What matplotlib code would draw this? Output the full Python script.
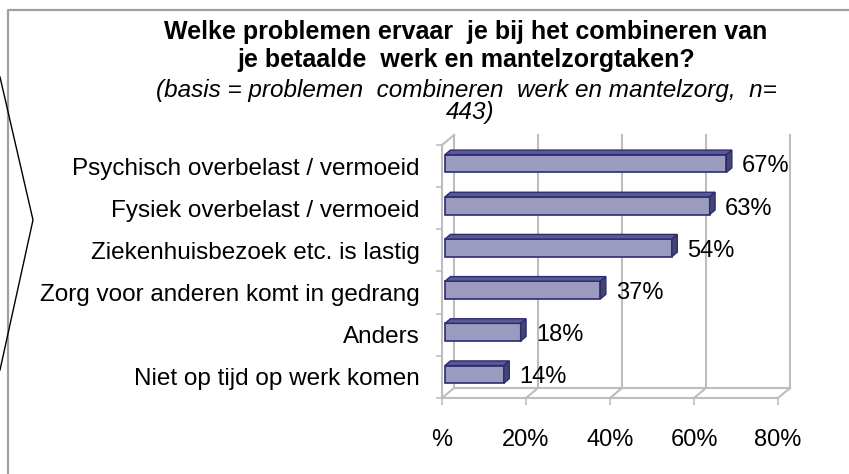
import matplotlib
matplotlib.use("Agg")
import matplotlib.pyplot as plt
from matplotlib.patches import Polygon
from matplotlib.lines import Line2D

plt.rcParams['font.family'] = ['Liberation Sans', 'DejaVu Sans']

categories = ["Psychisch overbelast / vermoeid",
              "Fysiek overbelast / vermoeid",
              "Ziekenhuisbezoek etc. is lastig",
              "Zorg voor anderen komt in gedrang",
              "Anders",
              "Niet op tijd op werk komen"]
values = [67, 63, 54, 37, 18, 14]
tick_vals = [0, 20, 40, 60, 80]
tick_labels = ["%", "20%", "40%", "60%", "80%"]

W, H = 849, 474
fig = plt.figure(figsize=(W / 100, H / 100), dpi=100)

# frame + chevron decoration
fig.add_artist(Line2D([8 / W, 8 / W, 1], [0, 1 - 10 / H, 1 - 10 / H],
                      transform=fig.transFigure, color='#a0a0a0', lw=1.6))
fig.add_artist(Line2D([0, 33 / W, 0], [1 - 77 / H, 1 - 220 / H, 1 - 370 / H],
                      transform=fig.transFigure, color='black', lw=1))

# titles
cx = 466 / W
fig.text(cx, 1 - 32 / H, "Welke problemen ervaar  je bij het combineren van",
         ha='center', va='center', fontsize=18, fontweight='bold')
fig.text(cx, 1 - 60 / H, "je betaalde  werk en mantelzorgtaken?",
         ha='center', va='center', fontsize=18, fontweight='bold')
fig.text(cx, 1 - 90 / H, "(basis = problemen  combineren  werk en mantelzorg,  n=",
         ha='center', va='center', fontsize=17.5, style='italic')
fig.text(470 / W, 1 - 113 / H, "443)",
         ha='center', va='center', fontsize=17.5, style='italic')

ax = fig.add_axes([442 / W, 1 - 398 / H, 336 / W, 253 / H])
ax.set_xlim(0, 80)
ax.set_ylim(5.5, -0.5)
ax.patch.set_alpha(0)

DX, DY = 2.86, 0.237   # wall depth in data units
grey = '#bdbdbd'
top, bot = -0.5, 5.5

# back walls and floor
for x in tick_vals:
    ax.plot([x + DX, x + DX], [bot - DY, top - DY], color=grey, lw=1.5, clip_on=False, zorder=1)
    ax.plot([x, x + DX], [bot, bot - DY], color=grey, lw=1.5, clip_on=False, zorder=1)
ax.plot([DX, 80 + DX], [bot - DY, bot - DY], color=grey, lw=1.5, clip_on=False, zorder=1)
ax.plot([0, DX], [top, top - DY], color=grey, lw=1.5, clip_on=False, zorder=1)

for s in ['top', 'right']:
    ax.spines[s].set_visible(False)
for s in ['left', 'bottom']:
    ax.spines[s].set_color(grey)
    ax.spines[s].set_linewidth(1.5)

# bars (3D-ish)
front = '#9b9bc0'
edge = '#2b2b72'
topc = '#5a5a92'
sidec = '#45456e'
h = 0.42
x0 = 0.25 * DX
dxb, dyb = 1.3, 0.11
ys = [i - 0.25 * DY for i in range(len(values))]
ax.barh(ys, values, left=x0, height=h, color=front, edgecolor=edge, lw=1.2, zorder=3)
for y, v in zip(ys, values):
    yt, yb = y - h / 2, y + h / 2
    ax.add_patch(Polygon([(x0, yt), (x0 + v, yt), (x0 + v + dxb, yt - dyb), (x0 + dxb, yt - dyb)],
                         closed=True, facecolor=topc, edgecolor=edge, lw=1, zorder=4))
    ax.add_patch(Polygon([(x0 + v, yt), (x0 + v, yb), (x0 + v + dxb, yb - dyb), (x0 + v + dxb, yt - dyb)],
                         closed=True, facecolor=sidec, edgecolor=edge, lw=1, zorder=4))
    ax.annotate(f"{v}%", (x0 + v + dxb, y), xytext=(7, -2), textcoords='offset points',
                ha='left', va='center', fontsize=17, annotation_clip=False)

ax.set_yticks(range(len(categories)))
ax.set_yticklabels(categories, fontsize=17.5)
ax.tick_params(axis='y', which='major', length=0, pad=16)
ax.set_yticks([i - 0.5 for i in range(len(categories) + 1)], minor=True)
ax.tick_params(axis='y', which='minor', length=4, color=grey, width=1.2)

ax.set_xticks(tick_vals)
ax.set_xticklabels(tick_labels, fontsize=17)
ax.tick_params(axis='x', length=5, color=grey, width=1.2, pad=17)

fig.savefig("out.png", dpi=100)
